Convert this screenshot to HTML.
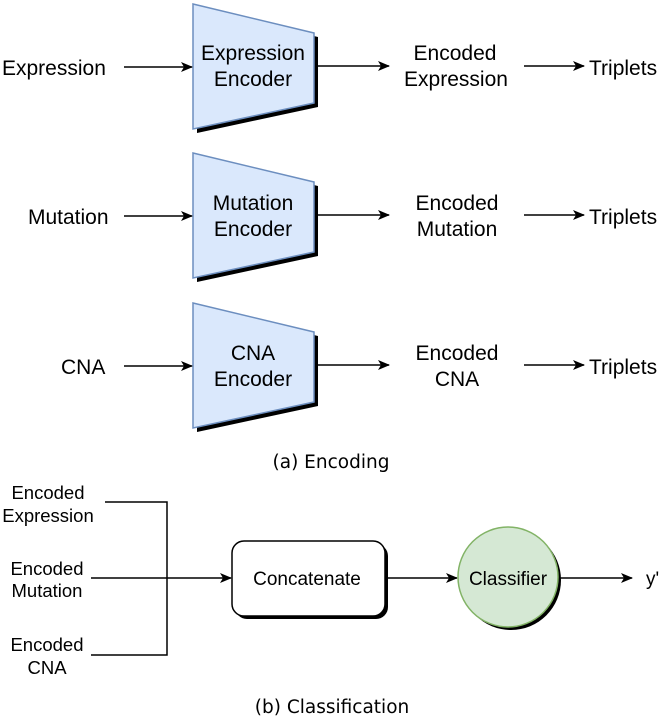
<!DOCTYPE html>
<html><head><meta charset="utf-8"><style>
html,body{margin:0;padding:0;background:#fff;}
svg{display:block;}
text{font-family:"Liberation Sans",Arial,sans-serif;font-size:21px;fill:#000;}
.s{font-size:18.5px;}
.m{font-size:19px;}
.cap{font-family:"DejaVu Sans",sans-serif;font-size:18.5px;}
</style></head><body>
<svg width="664" height="718" viewBox="0 0 664 718" xmlns="http://www.w3.org/2000/svg">
<defs>
<marker id="ar" markerWidth="12" markerHeight="10" refX="11" refY="5" orient="auto" markerUnits="userSpaceOnUse">
<path d="M0,0 L12,5 L0,10 L3,5 Z" fill="#000"/>
</marker>
<g id="enc">
<path d="M197,8 L318,37 L318,107 L197,133 Z" fill="#000"/>
<path d="M193,4 L314,33 L314,103 L193,129 Z" fill="#dae8fc" stroke="#6c8ebf" stroke-width="1.5"/>
</g>
</defs>

<use href="#enc"/>
<text x="2" y="75">Expression</text>
<line x1="124" y1="67" x2="192" y2="67" stroke="#000" stroke-width="1.5" marker-end="url(#ar)"/>
<text x="253" y="60" text-anchor="middle">Expression</text>
<text x="253" y="86" text-anchor="middle">Encoder</text>
<line x1="318" y1="66" x2="389" y2="66" stroke="#000" stroke-width="1.5" marker-end="url(#ar)"/>
<text x="455" y="60" text-anchor="middle">Encoded</text>
<text x="456" y="86" text-anchor="middle">Expression</text>
<line x1="524" y1="66" x2="584" y2="66" stroke="#000" stroke-width="1.5" marker-end="url(#ar)"/>
<text x="589" y="75">Triplets</text>

<g transform="translate(0,149)"><use href="#enc"/></g>
<text x="28" y="224">Mutation</text>
<line x1="124" y1="216" x2="192" y2="216" stroke="#000" stroke-width="1.5" marker-end="url(#ar)"/>
<text x="253" y="210" text-anchor="middle">Mutation</text>
<text x="253" y="236" text-anchor="middle">Encoder</text>
<line x1="318" y1="215" x2="389" y2="215" stroke="#000" stroke-width="1.5" marker-end="url(#ar)"/>
<text x="457" y="210" text-anchor="middle">Encoded</text>
<text x="457" y="236" text-anchor="middle">Mutation</text>
<line x1="524" y1="215" x2="584" y2="215" stroke="#000" stroke-width="1.5" marker-end="url(#ar)"/>
<text x="589" y="224">Triplets</text>

<g transform="translate(0,299)"><use href="#enc"/></g>
<text x="61" y="374">CNA</text>
<line x1="124" y1="366" x2="192" y2="366" stroke="#000" stroke-width="1.5" marker-end="url(#ar)"/>
<text x="253" y="360" text-anchor="middle">CNA</text>
<text x="253" y="386" text-anchor="middle">Encoder</text>
<line x1="318" y1="365" x2="389" y2="365" stroke="#000" stroke-width="1.5" marker-end="url(#ar)"/>
<text x="457" y="360" text-anchor="middle">Encoded</text>
<text x="457" y="386" text-anchor="middle">CNA</text>
<line x1="524" y1="365" x2="584" y2="365" stroke="#000" stroke-width="1.5" marker-end="url(#ar)"/>
<text x="589" y="374">Triplets</text>

<text class="cap" x="331" y="468" text-anchor="middle">(a) Encoding</text>

<text class="s" x="48" y="499" text-anchor="middle">Encoded</text>
<text class="s" x="48" y="522" text-anchor="middle">Expression</text>
<text class="s" x="47" y="575" text-anchor="middle">Encoded</text>
<text class="s" x="47" y="597" text-anchor="middle">Mutation</text>
<text class="s" x="47" y="651" text-anchor="middle">Encoded</text>
<text class="s" x="47" y="674" text-anchor="middle">CNA</text>
<polyline points="105,502 167,502 167,655 91,655" fill="none" stroke="#000" stroke-width="1.5"/>
<line x1="91" y1="578" x2="231" y2="578" stroke="#000" stroke-width="1.5" marker-end="url(#ar)"/>

<rect x="235" y="544" width="153" height="75" rx="12" fill="#000"/>
<rect x="232" y="541" width="153" height="75" rx="12" fill="#fff" stroke="#000" stroke-width="1.5"/>
<text class="m" x="307" y="585" text-anchor="middle">Concatenate</text>
<line x1="386" y1="578" x2="457" y2="578" stroke="#000" stroke-width="1.5" marker-end="url(#ar)"/>

<circle cx="511" cy="580" r="50" fill="#000"/>
<circle cx="508" cy="577" r="50" fill="#d5e8d4" stroke="#82b366" stroke-width="1.5"/>
<text class="m" x="508" y="585" text-anchor="middle">Classifier</text>
<line x1="559" y1="578" x2="632" y2="578" stroke="#000" stroke-width="1.5" marker-end="url(#ar)"/>
<text class="m" x="646" y="585">y'</text>

<text class="cap" x="332" y="713" text-anchor="middle">(b) Classification</text>
</svg>
</body></html>
